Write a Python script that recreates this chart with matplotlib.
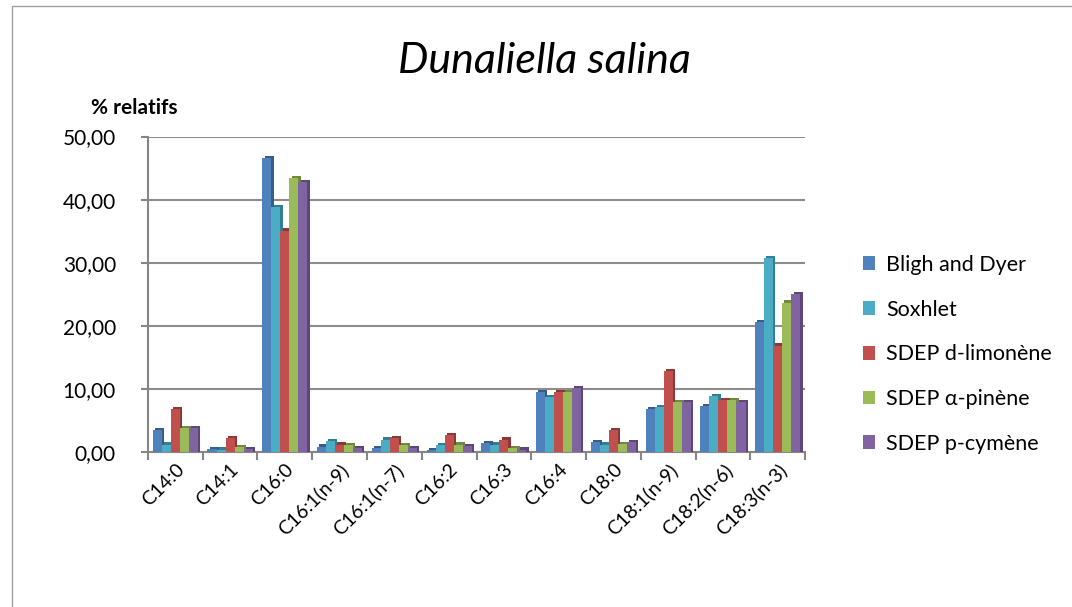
import numpy as np
import matplotlib.pyplot as plt
from matplotlib.patches import Rectangle

categories = ['C14:0', 'C14:1', 'C16:0', 'C16:1(n-9)', 'C16:1(n-7)', 'C16:2',
              'C16:3', 'C16:4', 'C18:0', 'C18:1(n-9)', 'C18:2(n-6)', 'C18:3(n-3)']
series = ['Bligh and Dyer', 'Soxhlet', 'SDEP d-limonène', 'SDEP α-pinène', 'SDEP p-cymène']

bligh = [3.5, 0.5, 46.6, 0.9, 0.6, 0.3, 1.5, 9.5, 1.6, 6.8, 7.3, 20.6]
soxhlet = [1.2, 0.4, 38.8, 1.7, 2.0, 1.1, 1.2, 8.7, 1.2, 7.1, 8.9, 30.8]
limonene = [6.8, 2.2, 35.1, 1.2, 2.2, 2.7, 2.0, 9.5, 3.5, 12.9, 8.2, 16.9]
pinene = [3.8, 0.8, 43.4, 1.1, 1.1, 1.2, 0.6, 9.5, 1.3, 7.9, 8.3, 23.7]
cymene = [3.8, 0.5, 42.8, 0.7, 0.6, 1.0, 0.4, 10.2, 1.6, 7.9, 7.9, 25.0]

colors = ['#4F81BD', '#4BACC6', '#C0504D', '#9BBB59', '#8064A2']
darks = ['#385D8A', '#357D91', '#8C3836', '#71893F', '#5C4776']

plt.rcParams['font.family'] = ['Lato', 'DejaVu Sans']

fig = plt.figure(figsize=(10.72, 6.07), dpi=100)
ax = fig.add_axes([0.138, 0.255, 0.613, 0.52])

x = np.arange(len(categories))
w = 0.165
data = [bligh, soxhlet, limonene, pinene, cymene]
for i, vals in enumerate(data):
    pos = x - 2 * w + i * w
    ax.bar(pos + w * 0.25, np.array(vals) + 0.35, w, color=darks[i], zorder=2 + i)
    ax.bar(pos, vals, w, color=colors[i], zorder=3 + i, label=series[i])

ax.set_xlim(-0.5, len(categories) - 0.5)
ax.set_ylim(0, 50)
ax.set_yticks(np.arange(0, 51, 10))
ax.set_yticklabels(['%d,00' % v for v in range(0, 51, 10)], fontsize=15)
ax.set_xticks(x)
ax.set_xticklabels(categories, rotation=45, ha='right', rotation_mode='anchor', fontsize=14)
ax.set_xticks(np.arange(-0.5, len(categories)), minor=True)
ax.tick_params(axis='x', which='major', length=0, pad=6)
ax.tick_params(axis='x', which='minor', length=6, color='#868686', width=1.5)
ax.tick_params(axis='y', length=5, color='#868686', width=1.5, pad=18)
ax.grid(axis='y', color='#8C8C8C', linewidth=1.5, zorder=0)
ax.set_axisbelow(True)
for s in ['top', 'right']:
    ax.spines[s].set_visible(False)
for s in ['left', 'bottom']:
    ax.spines[s].set_color('#868686')
    ax.spines[s].set_linewidth(1.5)

ax.text(-0.087, 1.07, '% relatifs', transform=ax.transAxes, fontsize=15,
        fontweight='bold', ha='left')
fig.text(0.508, 0.9, 'Dunaliella salina', fontsize=31, style='italic',
         ha='center', va='center')

ax.legend(loc='center left', bbox_to_anchor=(1.058, 0.31), frameon=False,
          fontsize=15.5, handlelength=0.6, handleheight=0.6, labelspacing=1.15,
          handletextpad=0.5)

fig.patches.append(Rectangle((0.011, -0.01), 1.0, 1.0, transform=fig.transFigure,
                             fill=False, edgecolor='#A0A0A0', linewidth=1))

fig.savefig('out.png', dpi=100)
